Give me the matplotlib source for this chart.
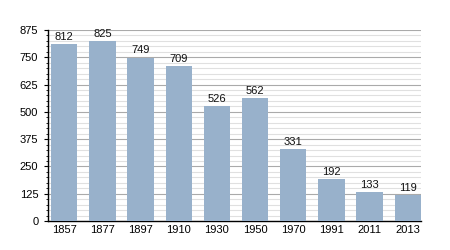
import matplotlib
matplotlib.use("Agg")
import matplotlib.pyplot as plt
from matplotlib.ticker import MultipleLocator

years = ["1857", "1877", "1897", "1910", "1930", "1950", "1970", "1991", "2011", "2013"]
population = [812, 825, 749, 709, 526, 562, 331, 192, 133, 119]

plt.rcParams['font.family'] = ['Liberation Sans', 'DejaVu Sans']

fig = plt.figure(figsize=(4.5, 2.5), dpi=100)
ax = fig.add_axes([48/450, 29/250, 373/450, 191/250])

x = list(range(len(years)))
w = 0.69
ax.bar(x, population, width=w, color='#98b1cb', zorder=3)
for xi, v in zip(x, population):
    ax.annotate(str(v), (xi, v), xytext=(0, 1.5), textcoords='offset points',
                ha='center', va='bottom', fontsize=8, color='#111111', zorder=4)

ax.set_xlim(-w/2 - 0.08, len(years) - 1 + w/2)
ax.set_ylim(0, 875)
ax.yaxis.set_major_locator(MultipleLocator(125))
ax.yaxis.set_minor_locator(MultipleLocator(25))
ax.grid(axis='y', which='major', color='#aaaaaa', linewidth=0.8, zorder=1)
ax.grid(axis='y', which='minor', color='#e0e0e0', linewidth=0.8, zorder=1)
ax.set_xticks(x)
ax.set_xticklabels(years)
ax.tick_params(axis='x', length=0, labelsize=8, pad=3)
ax.tick_params(axis='y', which='major', length=3, width=0.8, labelsize=8, pad=4)
ax.tick_params(axis='y', which='minor', length=1.6, width=0.6)
for s in ['top', 'right']:
    ax.spines[s].set_visible(False)
ax.spines['left'].set_linewidth(1)
ax.spines['bottom'].set_linewidth(1)

fig.savefig('out.png', dpi=100)
